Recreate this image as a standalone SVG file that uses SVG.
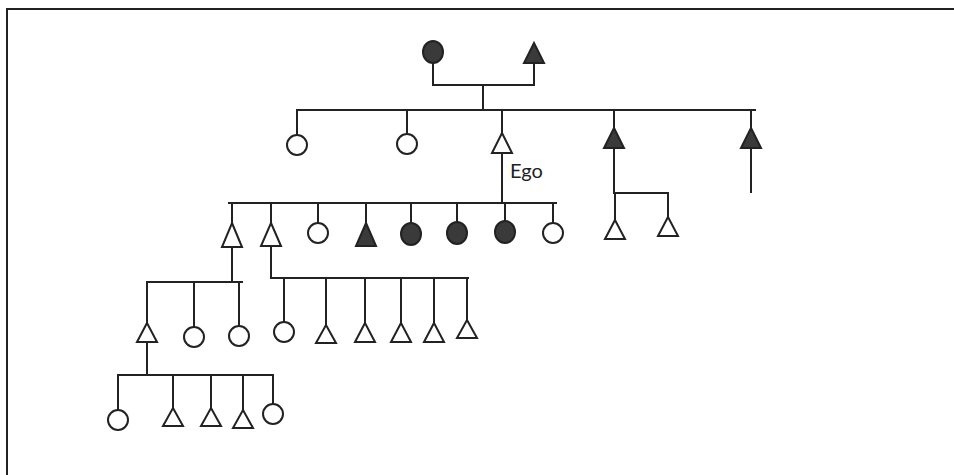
<svg xmlns="http://www.w3.org/2000/svg" width="954" height="475" viewBox="0 0 954 475">
<style>
.ln{stroke:#222;stroke-width:2;fill:none;stroke-linecap:square}
.o{fill:#fff;stroke:#222;stroke-width:2}
.f{fill:#3a3a3a;stroke:#222;stroke-width:2}
.t{font-family:Lato,"Liberation Sans",Arial,sans-serif;font-size:20px;fill:#222}
</style>
<rect width="954" height="475" fill="#fff"/>
<path class="ln" d="M7 475 V9 H954"/>
<g id="connectors">
<path class="ln" d="M433 62 V85 H534 V63 M483 85 V110"/>
<path class="ln" d="M297 110 H755 M297 110 V135 M407 110 V134 M502 110 V133 M614 110 V128 M751 110 V128"/>
<path class="ln" d="M502 153 V202 M614 148 V193 H668 M668 193 V217 M615 193 V220 M751 148 V192"/>
<path class="ln" d="M229 203 H556 M232 203 V223 M271 203 V223 M318 203 V223 M366 203 V223 M411 203 V223 M457 203 V222 M505 203 V222 M553 203 V223"/>
<path class="ln" d="M232 247 V282 M147 282 H242 M147 282 V323 M194 282 V327 M239 282 V326"/>
<path class="ln" d="M271 247 V278 H468 M284 278 V322 M326 278 V325 M365 278 V323 M401 278 V323 M434 278 V323 M467 278 V320"/>
<path class="ln" d="M147 342 V375 M118 375 H273 M118 375 V410 M173 375 V408 M211 375 V408 M243 375 V410 M273 375 V404"/>
</g>
<g id="gp-mother"><ellipse class="f" cx="433" cy="52" rx="10" ry="11"/></g>
<g id="gp-father"><polygon class="f" points="534,43 544,63 524,63"/></g>
<g id="g1-c1"><circle class="o" cx="297" cy="145" r="10"/></g>
<g id="g1-c2"><circle class="o" cx="407" cy="144" r="10"/></g>
<g id="ego"><polygon class="o" points="502,133 512,153 492,153"/><text class="t" x="510" y="178">Ego</text></g>
<g id="g1-t4"><polygon class="f" points="614,128 624,148 604,148"/></g>
<g id="g1-t5"><polygon class="f" points="751,128 761,148 741,148"/></g>
<g id="n1"><polygon class="o" points="615,220 625,239 605,239"/></g>
<g id="n2"><polygon class="o" points="668,217 678,236 658,236"/></g>
<g id="g2-1"><polygon class="o" points="232,223 242,247 222,247"/></g>
<g id="g2-2"><polygon class="o" points="271,223 281,246 261,246"/></g>
<g id="g2-3"><circle class="o" cx="318" cy="233" r="10"/></g>
<g id="g2-4"><polygon class="f" points="366,223 376,246 356,246"/></g>
<g id="g2-5"><ellipse class="f" cx="411" cy="234" rx="10" ry="11"/></g>
<g id="g2-6"><ellipse class="f" cx="457" cy="233" rx="10" ry="11"/></g>
<g id="g2-7"><ellipse class="f" cx="505" cy="232" rx="10" ry="11"/></g>
<g id="g2-8"><circle class="o" cx="553" cy="233" r="10"/></g>
<g id="g3-1"><polygon class="o" points="147,323 157,342 137,342"/></g>
<g id="g3-2"><circle class="o" cx="194" cy="337" r="10"/></g>
<g id="g3-3"><circle class="o" cx="239" cy="336" r="10"/></g>
<g id="g3-4"><circle class="o" cx="284" cy="332" r="10"/></g>
<g id="g3-5"><polygon class="o" points="326,325 336,343 316,343"/></g>
<g id="g3-6"><polygon class="o" points="365,323 375,342 355,342"/></g>
<g id="g3-7"><polygon class="o" points="401,323 411,342 391,342"/></g>
<g id="g3-8"><polygon class="o" points="434,323 444,342 424,342"/></g>
<g id="g3-9"><polygon class="o" points="467,320 477,338 457,338"/></g>
<g id="g4-1"><circle class="o" cx="118" cy="420" r="10"/></g>
<g id="g4-2"><polygon class="o" points="173,408 183,426 163,426"/></g>
<g id="g4-3"><polygon class="o" points="211,408 221,426 201,426"/></g>
<g id="g4-4"><polygon class="o" points="243,410 253,428 233,428"/></g>
<g id="g4-5"><circle class="o" cx="273" cy="414" r="10"/></g>
</svg>
